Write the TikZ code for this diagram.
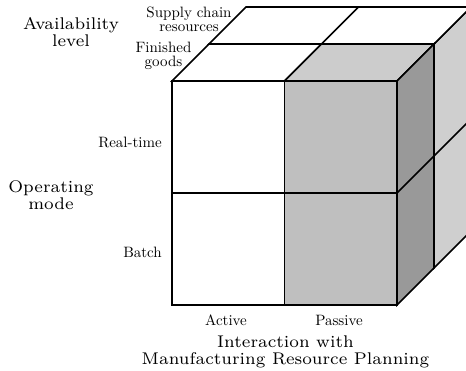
\documentclass[tikz,border=0pt]{standalone}

\definecolor{frontgray}{RGB}{191,191,191}
\definecolor{topgray}{RGB}{204,204,204}
\definecolor{sidegray}{RGB}{153,153,153}
\definecolor{backgray}{RGB}{207,207,207}

\begin{document}
\begin{tikzpicture}[x=1pt, y=-1pt, line width=1.6pt, line join=miter,
  smalllabel/.style={font=\fontsize{10}{9.3}\selectfont, scale=1.5, align=center, inner sep=0pt},
  biglabel/.style={font=\fontsize{7}{7}\selectfont, scale=2.42, align=center, inner sep=0pt}]

\useasboundingbox (0,0) rectangle (466,370);
\clip (0,0) rectangle (466,370);

% grid corners: column i, row j, depth layer k
\foreach \i in {0,1,2}
  \foreach \j in {0,1,2}
    \foreach \k in {0,1,2}
      \coordinate (p\i\j\k) at ({172+112.5*\i+37*\k},{81+112*\j-37*\k});

% back layer: right side and top
\filldraw[fill=backgray] (p201) -- (p202) -- (p222) -- (p221) -- cycle;
\draw (p211) -- (p212);
\filldraw[fill=white] (p001) -- (p201) -- (p202) -- (p002) -- cycle;
\draw (p101) -- (p102);

% front layer: top
\filldraw[fill=white] (p000) -- (p100) -- (p101) -- (p001) -- cycle;
\filldraw[fill=topgray] (p100) -- (p200) -- (p201) -- (p101) -- cycle;

% front layer: right side
\filldraw[fill=sidegray] (p200) -- (p201) -- (p221) -- (p220) -- cycle;
\draw (p210) -- (p211);

% front face
\filldraw[fill=white] (p000) rectangle (p120);
\filldraw[fill=frontgray] (p100) rectangle (p220);
\draw (p010) -- (p210);

% axis labels
\node[biglabel] (avail) at (71,32) {Availability\\level};
\node[biglabel] (opmode) at (51,195) {Operating\\mode};
\node[biglabel] (mrp) at (285.5,351.5) {Interaction with\\Manufacturing Resource Planning};

% category labels
\node[smalllabel] (supply) at (189,19) {Supply chain\\resources};
\node[smalllabel] (finished) at (163.5,56) {Finished\\goods};
\node[smalllabel, anchor=east] (realtime) at (163,142) {Real-time};
\node[smalllabel, anchor=east] (batch) at (163,252) {Batch};
\node[smalllabel] (active) at (226,320) {Active};
\node[smalllabel] (passive) at (339,320) {Passive};

\end{tikzpicture}
\end{document}
